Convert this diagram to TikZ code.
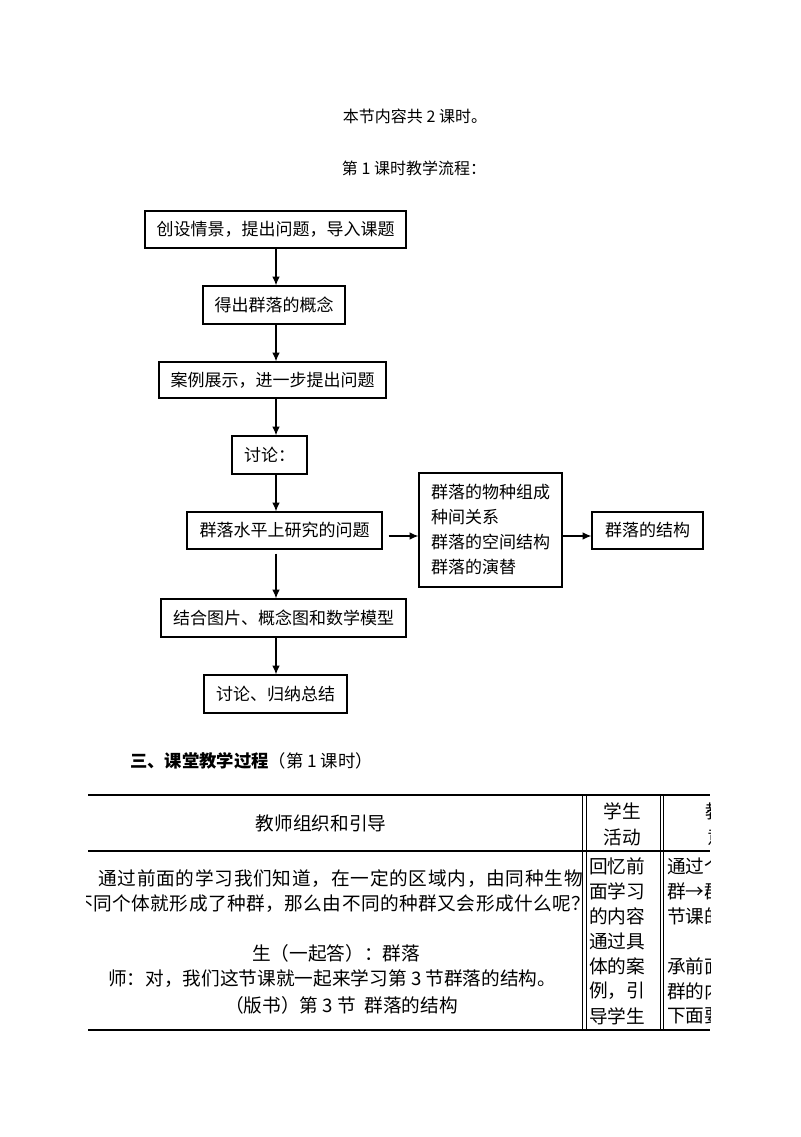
\documentclass[tikz,border=0pt]{standalone}
\usepackage{fontspec}
\setmainfont{Noto Sans CJK SC}
\usetikzlibrary{arrows.meta}

\tikzset{
  flowbox/.style={draw, line width=0.9pt, inner sep=2pt, font=\fontsize{12.75pt}{18.75pt}\selectfont},
  flowarrow/.style={line width=0.9pt, -{Latex[length=6.5pt,width=5.5pt]}},
  tabtext/.style={inner sep=0pt, anchor=west, font=\fontsize{14pt}{18.75pt}\selectfont},
  tabline/.style={line width=2.2pt},
  tabvline/.style={line width=0.75pt}
}

\begin{document}
\begin{tikzpicture}[x=0.75pt,y=-0.75pt]
\useasboundingbox[fill=white] (0,0) rectangle (800,1137);

\node [font=\fontsize{12pt}{14pt}\selectfont] (keshi) at (415,116) {本节内容共 2 课时。};
\node [font=\fontsize{12pt}{14pt}\selectfont] (liucheng) at (414,168) {第 1 课时教学流程：};

\coordinate (zhou) at (276,0);
\coordinate (heng) at (0,536);
\node [flowbox, minimum width=195.75pt, minimum height=27.75pt] (chuangshe) at (275.5,229.5) {创设情景，提出问题，导入课题};
\node [flowbox, minimum width=106.5pt, minimum height=28.5pt] (gainian) at (274,305) {得出群落的概念};
\node [flowbox, minimum width=170.25pt, minimum height=27pt] (anli) at (272.5,380) {案例展示，进一步提出问题};
\node [flowbox, minimum width=56.25pt, minimum height=28.5pt] (taolun) at (269.5,455) {讨论：};
\node [flowbox, minimum width=146.25pt, minimum height=27.75pt] (wenti) at (284.5,530.5) {群落水平上研究的问题};
\node [flowbox, align=left, minimum width=107.25pt, minimum height=85.5pt] (neirong) at (490.5,530) {群落的物种组成\\种间关系\\群落的空间结构\\群落的演替};
\node [flowbox, minimum width=83.25pt, minimum height=27.75pt] (jiegou) at (647.5,530.5) {群落的结构};
\node [flowbox, minimum width=183.75pt, minimum height=28.5pt] (moxing) at (283.5,618) {结合图片、概念图和数学模型};
\node [flowbox, minimum width=107.25pt, minimum height=28.5pt] (zongjie) at (275.5,694) {讨论、归纳总结};

\draw [flowarrow] (chuangshe.south -| zhou) -- (gainian.north -| zhou);
\draw [flowarrow] (gainian.south -| zhou) -- (anli.north -| zhou);
\draw [flowarrow] (anli.south -| zhou) -- (taolun.north -| zhou);
\draw [flowarrow] (taolun.south -| zhou) -- (wenti.north -| zhou);
\coordinate (wentixia) at ([yshift=-3pt]wenti.south);
\draw [flowarrow] (wentixia -| zhou) -- (moxing.north -| zhou);
\draw [flowarrow] (moxing.south -| zhou) -- (zongjie.north -| zhou);
\coordinate (wentiyou) at ([xshift=4.5pt]wenti.east);
\draw [flowarrow] (wentiyou |- heng) -- (neirong.west |- heng);
\draw [flowarrow] (neirong.east |- heng) -- (jiegou.west |- heng);

\node [anchor=west, inner sep=0pt, font=\fontsize{13pt}{15pt}\selectfont] (biaoti) at (130,761) {\textbf{三、课堂教学过程}（第 1 课时）};

\draw [tabline] (88,795) -- (710,795);
\draw [tabline] (88,851) -- (710,851);
\draw [tabline] (88,1030) -- (710,1030);
\foreach \x in {582.5,586,660,663.5}
  \draw [tabvline] (\x,795) -- (\x,1030);

\begin{scope}
\clip (86,780) rectangle (710,1040);
\node [tabtext, anchor=center] (jiaoshi) at (321,823) {教师组织和引导};
\node [tabtext, anchor=center] (xuesheng) at (622.5,811) {学生};
\node [tabtext, anchor=center] (huodong) at (622.5,837) {活动};
\node [tabtext] (jiaoxue) at (705,811) {教学};
\node [tabtext] (yitu) at (707,837) {意图};

\node [tabtext, font=\fontsize{14pt}{18.75pt}\selectfont\addfontfeatures{LetterSpace=4}] (hang1) at (98,879) {通过前面的学习我们知道，在一定的区域内，由同种生物};
\node [tabtext, font=\fontsize{14pt}{18.75pt}\selectfont\addfontfeatures{LetterSpace=2.5}] (hang2) at (74,904) {不同个体就形成了种群，那么由不同的种群又会形成什么呢？};
\node [tabtext] (hang3) at (252,953) {生（一起答）：群落};
\node [tabtext] (hang4) at (108,979) {师：对，我们这节课就一起来学习第 3 节群落的结构。};
\node [tabtext] (hang5) at (225,1005) {（版书）第 3 节\ \ 群落的结构};

\foreach \t [count=\i] in {回忆前,面学习,的内容,通过具,体的案,例，引,导学生}
  \node [tabtext] at (589,841+25*\i) {\t};
\foreach \t [count=\i] in {通过个体,群→群落,节课的,{},承前面,群的内,下面要}
  \node [tabtext] at (667,841+25*\i) {\t};
\end{scope}
\end{tikzpicture}
\end{document}
